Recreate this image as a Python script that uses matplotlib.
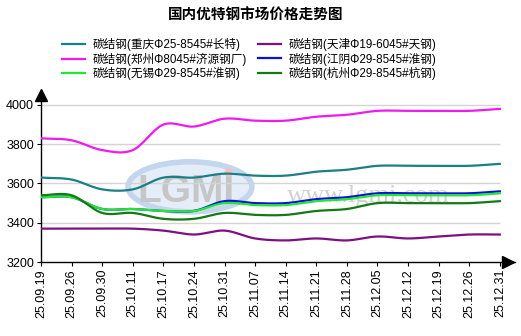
import numpy as np
import matplotlib.pyplot as plt
from matplotlib.patches import Ellipse

plt.rcParams['font.family'] = ['Liberation Sans', 'Noto Sans CJK SC']

dates = ["25.09.19", "25.09.26", "25.09.30", "25.10.11", "25.10.17", "25.10.24",
         "25.10.31", "25.11.07", "25.11.14", "25.11.21", "25.11.28", "25.12.05",
         "25.12.12", "25.12.19", "25.12.26", "25.12.31"]

chongqing = [3630, 3620, 3570, 3570, 3630, 3630, 3650, 3640, 3640, 3660, 3670, 3690,
             3690, 3690, 3690, 3700]
tianjin = [3370, 3370, 3370, 3370, 3360, 3340, 3360, 3320, 3310, 3320, 3310, 3330,
           3320, 3330, 3340, 3340]
zhengzhou = [3830, 3820, 3770, 3770, 3900, 3890, 3930, 3920, 3920, 3940, 3950, 3970,
             3970, 3970, 3970, 3980]
jiangyin = [3530, 3530, 3470, 3470, 3460, 3460, 3510, 3500, 3500, 3520, 3530, 3550,
            3550, 3550, 3550, 3560]
wuxi = [3530, 3530, 3470, 3470, 3460, 3460, 3500, 3490, 3490, 3510, 3520, 3540,
        3540, 3540, 3540, 3550]
hangzhou = [3540, 3540, 3450, 3450, 3420, 3420, 3450, 3440, 3440, 3460, 3470, 3500,
            3500, 3500, 3500, 3510]

names = ["碳结钢(重庆Φ25-8545#长特)", "碳结钢(天津Φ19-6045#天钢)",
         "碳结钢(郑州Φ8045#济源钢厂)", "碳结钢(江阴Φ29-8545#淮钢)",
         "碳结钢(无锡Φ29-8545#淮钢)", "碳结钢(杭州Φ29-8545#杭钢)"]
colors = ["#1b7f86", "#7f1080", "#f019f0", "#0a10e0", "#20e830", "#137a13"]
yticks = [3200, 3400, 3600, 3800, 4000]


def smooth(vals, n=20):
    # Catmull-Rom spline through every point
    p = np.asarray(vals, dtype=float)
    m = np.zeros_like(p)
    m[1:-1] = (p[2:] - p[:-2]) / 2
    m[0] = p[1] - p[0]
    m[-1] = p[-1] - p[-2]
    xs, ys = [], []
    t = np.linspace(0, 1, n, endpoint=False)
    for i in range(len(p) - 1):
        h00 = 2 * t**3 - 3 * t**2 + 1
        h10 = t**3 - 2 * t**2 + t
        h01 = -2 * t**3 + 3 * t**2
        h11 = t**3 - t**2
        xs.append(i + t)
        ys.append(h00 * p[i] + h10 * m[i] + h01 * p[i + 1] + h11 * m[i + 1])
    xs.append([len(p) - 1])
    ys.append([p[-1]])
    return np.concatenate(xs), np.concatenate(ys)


fig = plt.figure(figsize=(5.21, 3.36), dpi=100)
ax = fig.add_axes([0.0787, 0.2202, 0.91, 0.506])

# watermark
ax.add_patch(Ellipse((4.87, 3583), 4.05, 255, facecolor="#e4edf8", edgecolor="#c3d6ee",
                     lw=4, zorder=0))
ax.text(4.75, 3555, "LGMI", fontsize=28, fontweight="bold", color="#c6c6c6",
        ha="center", va="center", zorder=0.5)
ax.plot(6.1, 3660, "o", color="#f5c0c4", ms=5, zorder=0.5)
ax.text(10.7, 3535, "www.lgmi.com", family="Liberation Serif", fontsize=19,
        color="#d2d2d2", ha="center", va="center", zorder=0.5)

ax.hlines(yticks[1:], 0, 15, color="#d4d4d4", lw=1, zorder=1)

series = [chongqing, tianjin, zhengzhou, jiangyin, wuxi, hangzhou]
handles = []
for vals, name, c in zip(series, names, colors):
    xs, ys = smooth(vals)
    ln, = ax.plot(xs, ys, color=c, lw=1.6, label=name, zorder=3)
    handles.append(ln)

ax.set_xlim(0, 15.5)
ax.set_ylim(3200, 4066)
ax.set_yticks(yticks)
ax.set_yticklabels([str(v) for v in yticks], fontsize=9)
ax.set_xticks(range(len(dates)))
ax.set_xticklabels(dates, rotation=90, fontsize=9)
ax.tick_params(length=3, width=0.8, pad=2)
for s in ["top", "right"]:
    ax.spines[s].set_visible(False)
for s in ["left", "bottom"]:
    ax.spines[s].set_linewidth(1)

# arrow heads on the axes
ax.plot(0, 0.985, marker="^", color="black", ms=8, transform=ax.transAxes, clip_on=False)
ax.plot(0.985, 0, marker=">", color="black", ms=8, transform=ax.transAxes, clip_on=False)

fig.text(0.49, 0.952, "国内优特钢市场价格走势图", fontsize=10.5, fontweight="bold",
         ha="center", va="center")
# legend reads row by row
order = [0, 2, 4, 1, 3, 5]
fig.legend([handles[i] for i in order], [names[i] for i in order],
           loc="upper center", bbox_to_anchor=(0.478, 0.905), ncol=2, frameon=False,
           fontsize=8.4, handlelength=2.0, handletextpad=0.6, columnspacing=1.0,
           labelspacing=0.15, borderpad=0)

fig.savefig("out.png", dpi=100)
